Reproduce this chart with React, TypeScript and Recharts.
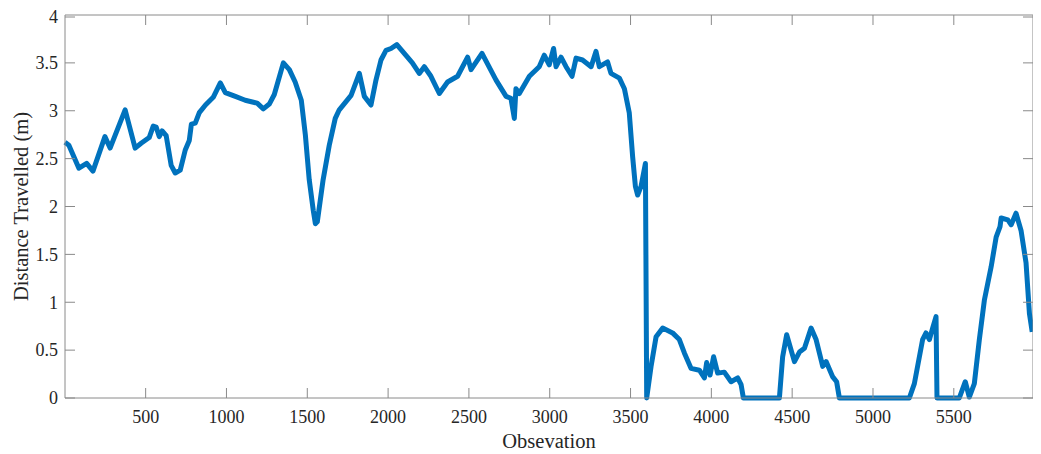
import { LineChart, Line, XAxis, YAxis } from "recharts"

const observations = [
  1, 25, 87, 135, 174, 248, 280, 373, 435, 472, 522, 547, 565, 584, 602, 627, 658, 683, 714, 745,
  770, 783, 807, 832, 870, 918, 962, 993, 1055, 1116, 1190, 1228, 1265, 1296, 1352, 1389, 1425, 1463,
  1488, 1512, 1537, 1550, 1562, 1598, 1636, 1673, 1698, 1771, 1822, 1853, 1894, 1925, 1956, 1987, 2018,
  2054, 2150, 2193, 2224, 2265, 2317, 2368, 2430, 2492, 2513, 2581, 2668, 2730, 2760, 2781, 2791, 2812,
  2874, 2935, 2966, 2997, 3024, 3039, 3070, 3101, 3138, 3163, 3203, 3256, 3286, 3307, 3358, 3379, 3431,
  3462, 3492, 3513, 3530, 3544, 3565, 3592, 3600, 3627, 3658, 3699, 3760, 3802, 3833, 3874, 3926, 3957,
  3971, 3992, 4014, 4039, 4080, 4122, 4163, 4184, 4198, 4421, 4441, 4466, 4514, 4545, 4576, 4617, 4648,
  4689, 4710, 4751, 4775, 4792, 5225, 5256, 5307, 5328, 5349, 5369, 5390, 5396, 5534, 5571, 5596, 5627,
  5658, 5689, 5731, 5762, 5786, 5793, 5834, 5855, 5885, 5916, 5947, 5968, 5985,
]
const distance = [
  2.67, 2.64, 2.4, 2.45, 2.37, 2.73, 2.61, 3.01, 2.61, 2.66, 2.72, 2.84, 2.83, 2.73, 2.79, 2.74, 2.43, 2.35, 2.38, 2.59,
  2.69, 2.86, 2.87, 2.98, 3.06, 3.14, 3.29, 3.19, 3.15, 3.11, 3.08, 3.02, 3.07, 3.17, 3.5, 3.43, 3.3, 3.11,
  2.75, 2.28, 1.96, 1.82, 1.84, 2.28, 2.64, 2.92, 3.01, 3.16, 3.39, 3.15, 3.06, 3.32, 3.53, 3.63, 3.65,
  3.69, 3.5, 3.39, 3.46, 3.36, 3.18, 3.3, 3.36, 3.56, 3.43, 3.6, 3.32, 3.15, 3.13, 2.92, 3.23, 3.18,
  3.36, 3.46, 3.58, 3.48, 3.65, 3.46, 3.56, 3.46, 3.36, 3.55, 3.53, 3.46, 3.62, 3.46, 3.51, 3.39, 3.34,
  3.23, 2.98, 2.52, 2.21, 2.12, 2.21, 2.45, 0, 0.33, 0.64, 0.73, 0.68, 0.61, 0.47, 0.31, 0.29, 0.21,
  0.37, 0.24, 0.43, 0.26, 0.27, 0.17, 0.21, 0.14, 0, 0, 0.43, 0.66, 0.38, 0.48, 0.52, 0.73, 0.61,
  0.33, 0.38, 0.22, 0.17, 0, 0, 0.15, 0.61, 0.68, 0.61, 0.73, 0.85, 0, 0, 0.17, 0.01, 0.15,
  0.61, 1.02, 1.37, 1.68, 1.79, 1.88, 1.86, 1.81, 1.93, 1.75, 1.41, 0.88, 0.69,
]
const xTicks = [500, 1000, 1500, 2000, 2500, 3000, 3500, 4000, 4500, 5000, 5500]
const yTicks = [0, 0.5, 1, 1.5, 2, 2.5, 3, 3.5, 4]

const data = observations.map((obs, i) => ({ obs, dist: distance[i] }))

const AXIS = "#8a8a8a"
const TEXT = "#262626"
const FONT = "'Liberation Serif', 'Times New Roman', serif"

// MATLAB-style ticks: drawn inward, labels outside
function BottomTick({ x, y, payload }: any) {
  return (
    <g>
      <line x1={x} y1={y} x2={x} y2={y - 10} stroke={AXIS} />
      <text x={x} y={y + 25} textAnchor="middle" fill={TEXT} fontSize={18} fontFamily={FONT}>
        {payload.value}
      </text>
    </g>
  )
}

function TopTick({ x, y }: any) {
  return <line x1={x} y1={y} x2={x} y2={y + 10} stroke={AXIS} />
}

function LeftTick({ x, y, payload }: any) {
  return (
    <g>
      <line x1={x} y1={y} x2={x + 10} y2={y} stroke={AXIS} />
      <text x={x - 7} y={y} dy="0.35em" textAnchor="end" fill={TEXT} fontSize={18} fontFamily={FONT}>
        {payload.value}
      </text>
    </g>
  )
}

function RightTick({ x, y }: any) {
  return <line x1={x} y1={y} x2={x - 10} y2={y} stroke={AXIS} />
}

export default function App() {
  return (
    <div style={{ width: 1030, height: 446 }}>
      <LineChart width={1030} height={446} data={data} margin={{ top: 6, right: 4, left: 7, bottom: 0 }}>
        <XAxis
          dataKey="obs"
          type="number"
          domain={[1, 5990]}
          ticks={xTicks}
          height={56}
          tickSize={0}
          tickMargin={0}
          tickLine={false}
          axisLine={{ stroke: AXIS }}
          tick={<BottomTick />}
          label={(props: any) => {
            const vb = props.viewBox
            return (
              <text x={vb.x + vb.width / 2} y={vb.y + 50} textAnchor="middle" fill={TEXT} fontSize={20.5} fontFamily={FONT}>
                Obsevation
              </text>
            )
          }}
        />
        <XAxis
          xAxisId="top"
          dataKey="obs"
          type="number"
          orientation="top"
          domain={[1, 5990]}
          ticks={xTicks}
          height={1}
          tickSize={0}
          tickMargin={0}
          tickLine={false}
          axisLine={{ stroke: AXIS }}
          tick={<TopTick />}
        />
        <YAxis
          type="number"
          domain={[0, 4]}
          ticks={yTicks}
          width={50}
          tickSize={0}
          tickMargin={0}
          tickLine={false}
          axisLine={{ stroke: AXIS }}
          tick={<LeftTick />}
          label={(props: any) => {
            const vb = props.viewBox
            const cx = vb.x + 13
            const cy = vb.y + vb.height / 2
            return (
              <text x={cx} y={cy} transform={`rotate(-90 ${cx} ${cy})`} textAnchor="middle" fill={TEXT} fontSize={20.5} fontFamily={FONT}>
                Distance Travelled (m)
              </text>
            )
          }}
        />
        <YAxis
          yAxisId="right"
          type="number"
          orientation="right"
          domain={[0, 4]}
          ticks={yTicks}
          width={1}
          tickSize={0}
          tickMargin={0}
          tickLine={false}
          axisLine={{ stroke: AXIS }}
          tick={<RightTick />}
        />
        {/* invisible copy so the mirrored top/right axes have a series */}
        <Line
          xAxisId="top"
          yAxisId="right"
          type="linear"
          dataKey="dist"
          stroke="none"
          dot={false}
          activeDot={false}
          isAnimationActive={false}
        />
        <Line
          type="linear"
          dataKey="dist"
          stroke="#0072BD"
          strokeWidth={5}
          dot={false}
          strokeLinejoin="round"
          isAnimationActive={false}
        />
      </LineChart>
    </div>
  )
}
